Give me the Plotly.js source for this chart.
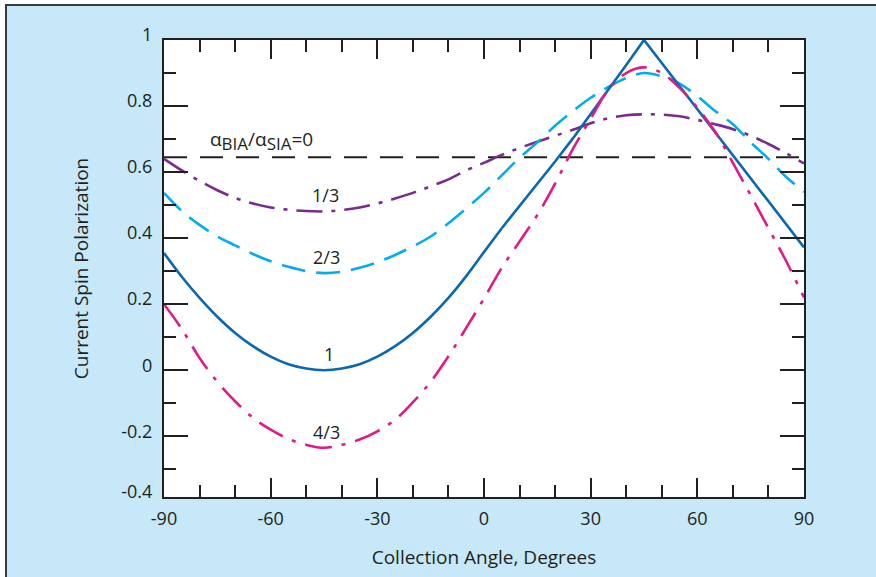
<!DOCTYPE html>
<html>
<head>
<meta charset="utf-8">
<script src="https://cdn.plot.ly/plotly-3.0.1.min.js"></script>
<style>
  html, body { margin: 0; padding: 0; background: #ffffff; }
  #frame { position: absolute; left: 5px; top: 4px; width: 871px; height: 573px;
           border-left: 2px solid #3a3a3a; border-top: 2px solid #3a3a3a; background: #c6e8f8; }
  #chart { position: absolute; left: 0; top: 0; width: 876px; height: 577px; }
</style>
</head>
<body>
<div id="frame"></div>
<div id="chart"></div>
<script>
// Collection angle in degrees
const angles = [-90,-85,-80,-75,-70,-65,-60,-55,-50,-45,-40,-35,-30,-25,-20,-15,-10,-5,0,
                5,10,15,20,25,30,35,40,45,50,55,60,65,70,75,80,85,90];

// alpha_BIA / alpha_SIA = 0
const ratio0 = [0.645,0.645,0.645,0.645,0.645,0.645,0.645,0.645,0.645,0.645,0.645,0.645,0.645,0.645,0.645,0.645,0.645,0.645,0.645,
                0.645,0.645,0.645,0.645,0.645,0.645,0.645,0.645,0.645,0.645,0.645,0.645,0.645,0.645,0.645,0.645,0.645,0.645];
// 1/3
const ratio13 = [0.640,0.605,0.573,0.545,0.522,0.505,0.493,0.486,0.482,0.481,0.485,0.493,0.505,0.520,0.537,0.557,0.578,0.605,0.628,
                 0.652,0.673,0.692,0.710,0.728,0.748,0.763,0.772,0.775,0.774,0.769,0.758,0.745,0.730,0.710,0.685,0.657,0.626];
// 2/3
const ratio23 = [0.537,0.482,0.440,0.405,0.378,0.352,0.330,0.313,0.300,0.294,0.298,0.310,0.327,0.349,0.375,0.405,0.445,0.490,0.537,
                 0.590,0.643,0.690,0.740,0.785,0.825,0.858,0.885,0.900,0.890,0.868,0.830,0.785,0.745,0.690,0.640,0.585,0.540];
// 1
const ratio1 = [0.355,0.283,0.219,0.162,0.113,0.073,0.041,0.018,0.005,0.000,0.005,0.018,0.041,0.073,0.113,0.162,0.219,0.285,0.358,
                0.430,0.497,0.563,0.632,0.702,0.775,0.848,0.924,1.000,0.930,0.860,0.790,0.720,0.650,0.580,0.510,0.440,0.372];
// 4/3
const ratio43 = [0.200,0.125,0.037,-0.035,-0.094,-0.144,-0.180,-0.208,-0.226,-0.235,-0.226,-0.210,-0.185,-0.150,-0.097,-0.035,0.042,0.128,0.217,
                 0.310,0.390,0.470,0.565,0.670,0.762,0.850,0.900,0.917,0.900,0.855,0.795,0.722,0.628,0.530,0.430,0.330,0.220];

const curveLabels = [
  "\u03b1<sub><span style='font-size:17px'>BIA</span></sub>/\u03b1<sub><span style='font-size:17px'>SIA</span></sub>=0",
  "1/3", "2/3", "1", "4/3"];
const labelX = [-62.5, -44.6, -44.2, -43.5, -44.3];
const labelY = [0.695, 0.530, 0.343, 0.050, -0.187];
const labelSize = [19, 18, 18, 18, 18];

const xTickVals = [-90,-60,-30,0,30,60,90];
const xTickText = ["-90","-60","-30","0","30","60","90"];
const yTickVals = [-0.384,-0.2,0,0.2,0.4,0.6,0.8,1];
const yTickText = ["-0.4","-0.2","0","0.2","0.4","0.6","0.8","1"];
const yMinorVals = [-0.3,-0.1,0.1,0.3,0.5,0.7,0.9];

// the r=1 curve: smooth trough part and straight-sided peak part
const splitIdx = 19; // angle 5
const traces = [
  {x: angles, y: ratio0,  mode: 'lines', line: {color: '#231f20', width: 2,   dash: '23px,13px'}},
  {x: angles, y: ratio13, mode: 'lines', line: {color: '#7b2a8e', width: 2.6, dash: '26px,9px,4px,9px', shape: 'spline'}},
  {x: angles, y: ratio23, mode: 'lines', line: {color: '#00aeef', width: 2.6, dash: '24px,11px', shape: 'spline'}},
  {x: angles.slice(0, splitIdx + 1), y: ratio1.slice(0, splitIdx + 1), mode: 'lines',
   line: {color: '#0a68b0', width: 2.6, shape: 'spline', smoothing: 1}},
  {x: angles.slice(splitIdx), y: ratio1.slice(splitIdx), mode: 'lines',
   line: {color: '#0a68b0', width: 2.6}},
  {x: angles, y: ratio43, mode: 'lines', line: {color: '#e0198a', width: 2.6, dash: '27px,10px,4px,10px', shape: 'spline'}}
];

const annotations = curveLabels.map((t, i) => ({
  x: labelX[i], y: labelY[i], xref: 'x', yref: 'y', text: t, showarrow: false,
  font: {family: 'Open Sans', size: labelSize[i], color: '#231f20'}
}));

const layout = {
  width: 876, height: 577,
  margin: {l: 163.5, r: 72, t: 40, b: 80},
  paper_bgcolor: 'rgba(0,0,0,0)',
  plot_bgcolor: '#ffffff',
  showlegend: false,
  font: {family: 'Open Sans', size: 18, color: '#231f20'},
  xaxis: {
    range: [-90, 90], tickmode: 'array', tickvals: xTickVals, ticktext: xTickText,
    ticks: 'inside', ticklen: 19, tickwidth: 2, tickcolor: '#231f20',
    showline: true, linecolor: '#231f20', linewidth: 2, mirror: 'allticks',
    showgrid: false, zeroline: false, ticklabelstandoff: 4,
    tickfont: {size: 18},
    minor: {dtick: 10, tick0: 0, ticks: 'inside', ticklen: 12, tickwidth: 2, tickcolor: '#231f20', showgrid: false},
    title: {text: 'Collection Angle, Degrees', font: {size: 19}, standoff: 22}
  },
  yaxis: {
    range: [-0.384, 1.0], tickmode: 'array', tickvals: yTickVals, ticktext: yTickText,
    ticks: 'inside', ticklen: 24, tickwidth: 2, tickcolor: '#231f20',
    showline: true, linecolor: '#231f20', linewidth: 2, mirror: 'allticks',
    showgrid: false, zeroline: false, ticklabelstandoff: 6, ticklabelshift: -5,
    tickfont: {size: 18},
    minor: {tickmode: 'array', tickvals: yMinorVals, ticks: 'inside', ticklen: 12, tickwidth: 2, tickcolor: '#231f20', showgrid: false},
    title: {text: 'Current Spin Polarization', font: {size: 19}, standoff: 28}
  },
  annotations: annotations
};

Plotly.newPlot('chart', traces, layout, {displayModeBar: false, staticPlot: true});
</script>
</body>
</html>
